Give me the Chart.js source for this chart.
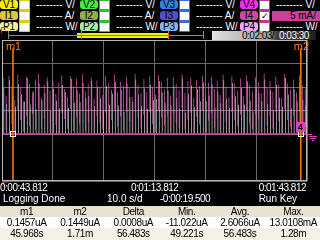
<!DOCTYPE html>
<html>
<head>
<meta charset="utf-8">
<script src="https://cdn.jsdelivr.net/npm/chart.js@4/dist/chart.umd.min.js"></script>
<style>
  body { margin: 0; background: #000; width: 320px; height: 240px; overflow: hidden; position: relative;
         font-family: "Liberation Sans", Arial, sans-serif; }
  .a { position: absolute; white-space: nowrap; line-height: 10px; font-size: 10px; }
  .badge { border-radius: 3px; width: 18px; height: 9px; text-align: center; color: #000; font-size: 10px; line-height: 9px; }
  .txt { color: #fff; }
  .estr { letter-spacing: -0.5px; }
  .tabla { position: absolute; left: 0; width: 320px; height: 11px; display: flex; color: #000; font-size: 10px; line-height: 11px; letter-spacing: -0.4px; }
  .tabla div { width: 53.33px; text-align: center; }
</style>
</head>
<body>
<div id="cabecera"></div>
<canvas id="grafico" width="320" height="150" style="position:absolute;left:0;top:38px"></canvas>
<div id="pie"></div>
<script>
/* Canales de la cabecera */
const canales = ["1", "2", "3", "4"];
const coloresMarco = ["#e8c800", "#30c030", "#3070d0", "#c030a0"];
const coloresV = ["#f8f000", "#40f040", "#3080e8", "#f030f0"];
const coloresI = ["#d8c840", "#90b050", "#5050c8", "#d04898"];
const coloresP = ["#f8f0a0", "#a0f0a0", "#80b8f0", "#f0a8f0"];
const unidades = ["V/", "A/", "W/"];

/* Eje de tiempo (s) y escala vertical (mA) */
const tiempoInicio = 43.812;
const tiempoFin = 103.812;
const segundosPorDiv = 10;
const mAporDiv = 5;
const yMin = -10;
const yMax = 20;

/* Marcadores */
const marcadorM1 = 45.968;
const marcadorM2 = 102.6;

/* Traza I4 (mA) por columna: barra gris desde 0 y barra rosa [bajo, alto] */
const grisAlto = [9.8, 6.4, 11.5, 7.9, 5.8, 10.6, 8.4, 6.9, 11.9, 6.3, 9.1, 5.2, 10.8, 7.2, 8.7, 11.2, 4.9, 9.6, 7.1, 5.5,
  10.4, 8.9, 5.6, 11.7, 6.7, 9.3, 6.8, 10.9, 7.6, 8.1, 11.4, 5.9, 9.9, 7.5, 5.1, 10.2, 6.2, 8.6, 11.1, 6.1,
  9.4, 4.7, 10.7, 7.8, 6.8, 11.6, 8.3, 5.9, 9.7, 5.3, 10.5, 7.2, 7.4, 11.3, 8.8, 6.6, 9.2, 6.1, 10.1, 7.6,
  5.4, 11.8, 4.6, 8.5, 10.3, 5.7, 9.5, 6.9, 11.0, 7.0, 8.2, 10.6, 5.7, 9.0, 6.5, 11.5, 7.4, 5.6, 10.8, 8.0,
  6.2, 9.8, 6.3, 11.2, 7.0, 4.8, 10.0, 8.7, 6.9, 11.6, 6.4, 9.3, 5.0, 10.4, 7.7, 5.8, 11.9, 8.4, 5.5, 9.6,
  7.1, 10.9, 7.3, 6.0];
const rosaAlto = [11.9, 8.2, 12.4, 10.1, 7.3, 12.6, 9.8, 6.9, 12.2, 10.7, 8.8, 11.6, 12.8, 7.7, 10.4, 12.1, 9.2, 11.3, 8.5, 10.9,
  12.5, 9.6, 7.8, 12.3, 10.2, 11.8, 8.6, 12.7, 9.1, 10.6, 12.0, 7.5, 11.4, 9.9, 8.3, 12.4, 10.8, 9.4, 12.6, 8.9,
  11.1, 10.3, 12.2, 9.7, 7.9, 12.8, 10.5, 8.7, 11.7, 9.0, 12.3, 10.0, 8.4, 12.5, 11.0, 9.5, 11.9, 8.1, 12.1, 10.6,
  9.3, 12.7, 8.8, 11.2, 12.0, 7.6, 11.5, 10.2, 12.4, 8.5, 10.9, 12.2, 9.6, 11.4, 8.3, 12.6, 10.1, 7.8, 12.3, 10.7,
  9.2, 11.8, 8.0, 12.5, 10.4, 9.1, 12.1, 11.0, 8.6, 12.8, 9.8, 11.3, 9.0, 12.2, 10.5, 7.7, 12.7, 10.8, 9.4, 11.6,
  8.9, 12.4, 10.3, 9.7];
const rosaBajo = [3.1, 0.8, 4.6, 2.2, 0.0, 5.1, 2.9, 0.5, 3.8, 1.6, 4.2, 0.9, 5.5, 1.2, 3.4, 4.9, 0.4, 2.7, 1.9, 0.0,
  4.4, 3.2, 1.1, 5.3, 0.6, 3.6, 2.0, 4.8, 0.7, 2.5, 5.0, 0.0, 3.9, 2.3, 1.0, 4.5, 0.3, 3.0, 5.2, 1.5,
  3.7, 0.8, 4.7, 2.6, 0.2, 5.4, 3.3, 1.3, 4.0, 0.0, 4.6, 2.1, 0.5, 5.0, 3.5, 1.8, 3.8, 0.4, 4.3, 2.4,
  1.2, 5.6, 0.9, 3.1, 4.5, 0.0, 3.6, 2.0, 4.9, 0.6, 2.8, 4.4, 1.4, 3.4, 0.7, 5.2, 2.5, 0.3, 4.7, 2.9,
  1.7, 4.1, 0.0, 5.1, 2.2, 1.0, 4.2, 3.3, 0.5, 5.4, 1.9, 3.7, 1.1, 4.6, 2.7, 0.2, 5.3, 3.0, 1.5, 3.9,
  0.8, 4.8, 2.4, 1.6];

/* Textos inferiores */
const tiemposEje = ["0:00:43.812", "0:01:13.812", "0:01:43.812"];
const estado = ["Logging Done", "10.0 s/d", "-0:00:19.500", "Run Key"];
const columnasTabla = ["m1", "m2", "Delta", "Min.", "Avg.", "Max."];
const filaCorriente = ["0.1457uA", "0.1449uA", "0.0008uA", "-11.022uA", "2.6066uA", "13.0108mA"];
const filaTiempo = ["45.968s", "1.71m", "56.483s", "49.221s", "56.483s", "1.28m"];

/* ---------- Cabecera ---------- */
function caja(x, y, w, h, estilo, texto, clase) {
  return `<div class="a ${clase || ""}" style="left:${x}px;top:${y}px;width:${w}px;height:${h}px;${estilo}">${texto || ""}</div>`;
}

let html = "";
canales.forEach((c, k) => {
  const x0 = k * 80;
  const colores = [coloresV[k], coloresI[k], coloresP[k]];
  const letras = ["V", "I", "P"];
  html += caja(x0 + 19, 0, 11, 32, `background:${coloresMarco[k]}`);
  for (let f = 0; f < 3; f++) {
    const y = f * 11;
    html += `<div class="a badge" style="left:${x0}px;top:${y}px;background:${colores[f]}">${letras[f]}${c}</div>`;
    const marcado = (k == 3 && f == 1);
    html += caja(x0 + 20, y + 1, 9, 8, "background:#fff;color:#000;font-size:9px;line-height:8px;text-align:center", marcado ? "&#10003;" : "");
    if (marcado) {
      html += caja(x0 + 32, y, 48, 10, `background:#c8409a;color:#000;text-align:right;padding-right:4px;box-sizing:border-box`, "5 mA/");
    } else {
      html += caja(x0 + 36, y, 42, 10, "", "-------- " + unidades[f], "txt");
    }
  }
});

/* barra de registro */
html += caja(2, 27, 6, 1, "background:#e04040");
html += caja(1, 27, 1, 6, "background:#e04040");
html += caja(8, 35, 195, 1, "background:#888");
html += caja(8, 31, 1, 8, "background:#888");
html += caja(203, 31, 1, 8, "background:#888");
html += caja(77, 33, 92, 5, "background:#f0f000");
html += caja(77, 35, 92, 1, "background:#808060");
html += caja(81, 31, 1, 8, "background:#ff7000");
html += caja(168, 31, 1, 8, "background:#ff7000");
html += caja(212, 31, 104, 9, "background:linear-gradient(to right,#e0e0e0,#a0a0a0 55%,#404040 62%,#202020)");
html += caja(242, 31, 36, 9, "color:#000;line-height:9px", "0:02:03/", "estr");
html += caja(279, 31, 36, 9, "color:#fff;line-height:9px", "0:03:30", "estr");
document.getElementById("cabecera").innerHTML = html;

/* ---------- Pie ---------- */
let pie = "";
pie += caja(0, 183, 60, 10, "", tiemposEje[0], "txt estr");
pie += caja(131, 183, 60, 10, "", tiemposEje[1], "txt estr");
pie += caja(246, 183, 60, 10, "text-align:right", tiemposEje[2], "txt estr");
pie += caja(3, 194, 80, 10, "", estado[0], "txt");
pie += caja(107, 194, 50, 10, "", estado[1], "txt");
pie += caja(160, 194, 60, 10, "", estado[2], "txt estr");
pie += caja(240, 194, 57, 10, "text-align:right", estado[3], "txt");
const filas = [[columnasTabla, "#e8e2d0", 206], [filaCorriente, "#ffffff", 217], [filaTiempo, "#f4f0e6", 228]];
for (const [fila, fondo, y] of filas) {
  pie += `<div class="tabla" style="top:${y}px;height:${240 - y}px;background:${fondo}">` +
    fila.map(t => `<div>${t}</div>`).join("") + `</div>`;
}
document.getElementById("pie").innerHTML = pie;

/* ---------- Grafica ---------- */
const numColumnas = grisAlto.length;
const etiquetas = grisAlto.map((_, i) =>
  (tiempoInicio + (i + 0.5) * (tiempoFin - tiempoInicio) / numColumnas).toFixed(2));

const extras = {
  id: "extras",
  afterDatasetsDraw(chart) {
    const { ctx, chartArea: a, scales } = chart;
    const y0 = scales.y.getPixelForValue(0);
    ctx.save();
    ctx.strokeStyle = "#b8b8b8";
    ctx.lineWidth = 1;
    ctx.strokeRect(a.left + 0.5, a.top + 0.5, a.right - a.left - 1, a.bottom - a.top - 1);

    ctx.font = "11px 'Liberation Sans', Arial";
    ctx.textBaseline = "top";
    for (const [m, t] of [[marcadorM1, "m1"], [marcadorM2, "m2"]]) {
      const px = scales.x2.getPixelForValue(m);
      ctx.fillStyle = "#ff8000";
      ctx.fillText(t, px - 7, a.top + 1);
      ctx.strokeStyle = "#fff";
      ctx.strokeRect(Math.round(px) - 2.5, Math.round(y0) - 2.5, 5, 5);
    }
    /* marca del canal 4 y referencia */
    ctx.fillStyle = "#e040c0";
    ctx.fillRect(296, y0 - 12, 9, 10);
    ctx.fillStyle = "#000";
    ctx.font = "bold 9px 'Liberation Sans', Arial";
    ctx.fillText("4", 298, y0 - 11);
    ctx.strokeStyle = "#e040c0";
    ctx.beginPath();
    ctx.moveTo(305, y0 + 0.5); ctx.lineTo(312, y0 + 0.5);
    ctx.moveTo(309, y0 + 2.5); ctx.lineTo(317, y0 + 2.5);
    ctx.moveTo(310, y0 + 4.5); ctx.lineTo(316, y0 + 4.5);
    ctx.moveTo(312, y0 + 6.5); ctx.lineTo(314, y0 + 6.5);
    ctx.stroke();
    /* marca de disparo abajo a la izquierda */
    ctx.strokeStyle = "#e04040";
    ctx.beginPath();
    ctx.moveTo(3, a.bottom + 5); ctx.lineTo(3, a.bottom + 1); ctx.lineTo(8, a.bottom + 1);
    ctx.stroke();
    ctx.restore();
  }
};

new Chart(document.getElementById("grafico"), {
  type: "bar",
  data: {
    labels: etiquetas,
    datasets: [
      {
        label: "m1",
        type: "line",
        xAxisID: "x2",
        data: [{ x: marcadorM1, y: yMin }, { x: marcadorM1, y: 18.2 }],
        borderColor: "#ff8000",
        borderWidth: 1.5,
        pointRadius: 0,
      },
      {
        label: "m2",
        type: "line",
        xAxisID: "x2",
        data: [{ x: marcadorM2, y: yMin }, { x: marcadorM2, y: 18.2 }],
        borderColor: "#ff8000",
        borderWidth: 1.5,
        pointRadius: 0,
      },
      {
        label: "base",
        type: "line",
        xAxisID: "x2",
        data: [{ x: tiempoInicio, y: 0 }, { x: tiempoFin, y: 0 }],
        borderColor: "#d050a8",
        borderWidth: 1.5,
        pointRadius: 0,
      },
      {
        label: "I4 rosa",
        data: rosaBajo.map((b, i) => [b, rosaAlto[i]]),
        backgroundColor: "#f060c8",
        categoryPercentage: 0.9,
        barPercentage: 1,
      },
      {
        label: "I4 gris",
        data: grisAlto.map(g => [0, g]),
        backgroundColor: "#e6e6e6",
        categoryPercentage: 0.9,
        barPercentage: 1,
      },
    ],
  },
  options: {
    responsive: false,
    animation: false,
    events: [],
    layout: { padding: { left: 2, right: 13, top: 2, bottom: 7 } },
    plugins: { legend: { display: false }, tooltip: { enabled: false } },
    scales: {
      x: { display: false },
      x2: {
        type: "linear",
        position: "bottom",
        offset: false,
        min: tiempoInicio,
        max: tiempoFin,
        ticks: { display: false },
        grid: { color: "#6a6a6a", drawTicks: false, offset: false },
        border: { display: false },
        afterBuildTicks: (s) => {
          s.ticks = [0, 1, 2, 3, 4, 5, 6].map(k => ({ value: tiempoInicio + k * segundosPorDiv }));
        },
      },
      y: {
        min: yMin,
        max: yMax,
        ticks: { display: false, stepSize: mAporDiv },
        grid: {
          color: (c) => (c.tick && c.tick.value == -5 ? "rgba(0,0,0,0)" : "#6a6a6a"),
          drawTicks: false,
        },
        border: { display: false },
      },
    },
  },
  plugins: [extras],
});
</script>
</body>
</html>
